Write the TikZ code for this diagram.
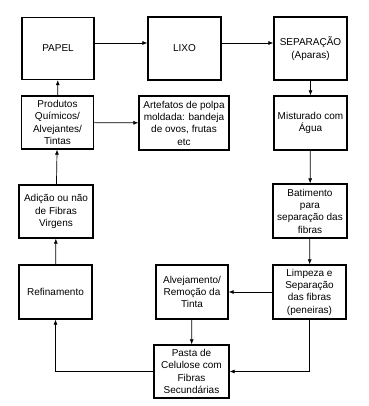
\documentclass[tikz,border=0pt]{standalone}
\usepackage{fontspec}
\setmainfont{Liberation Sans}
\usetikzlibrary{arrows.meta}
\begin{document}
\begin{tikzpicture}[x=1pt,y=-1pt,
  box/.style={draw,line width=1.3pt,align=center,inner sep=1pt,
    font=\fontsize{10}{12.3}\selectfont},
  conn/.style={line width=0.7pt,-{Latex[length=5pt,width=4pt]}}]
\useasboundingbox (0,0) rectangle (368,406);
\node[box,minimum width=72pt,minimum height=62pt] (papel) at (58,48.5) {PAPEL};
\node[box,minimum width=73pt,minimum height=63pt] (lixo) at (184.5,48.5) {LIXO};
\node[box,minimum width=73pt,minimum height=63pt] (sep) at (310.5,48.5) {SEPARAÇÃO\\(Aparas)};
\node[box,minimum width=72pt,minimum height=53pt] (prod) at (57.5,122.5) {Produtos\\Químicos/\\Alvejantes/\\Tintas};
\node[box,minimum width=90pt,minimum height=54pt] (art) at (184,123) {Artefatos de polpa\\moldada: bandeja\\de ovos, frutas\\etc};
\node[box,minimum width=73pt,minimum height=54pt] (mist) at (310.5,123) {Misturado com\\Água};
\node[box,minimum width=74pt,minimum height=53pt] (adic) at (56,211.5) {Adição ou não\\de Fibras\\Virgens};
\node[box,minimum width=74pt,minimum height=54pt] (bat) at (310,211) {Batimento\\para\\separação das\\fibras};
\node[box,minimum width=73pt,minimum height=54pt] (ref) at (55.5,292) {Refinamento};
\node[box,minimum width=72pt,minimum height=54pt] (alv) at (192,292) {Alvejamento/\\Remoção da\\Tinta};
\node[box,minimum width=73pt,minimum height=54pt] (limp) at (309.5,292) {Limpeza e\\Separação\\das fibras\\(peneiras)};
\node[box,minimum width=75pt,minimum height=53pt] (pasta) at (191.5,371.5) {Pasta de\\Celulose com\\Fibras\\Secundárias};
\draw[conn] (papel.east |- 0,43) -- (lixo.west |- 0,43);
\draw[conn] (lixo.east |- 0,43) -- (sep.west |- 0,43);
\draw[conn] (sep) -- (mist);
\draw[conn] (prod) -- (papel);
\draw[conn] (prod) -- (art);
\draw[conn] (mist) -- (bat);
\draw[conn] (adic) -- (prod);
\draw[conn] (bat) -- (limp);
\draw[conn] (limp) -- (alv);
\draw[conn] (alv) -- (pasta);
\draw[conn] (limp.south) |- (pasta.east);
\draw[conn] (pasta.west) -| (ref.south);
\draw[conn] (ref) -- (adic);
\end{tikzpicture}
\end{document}
